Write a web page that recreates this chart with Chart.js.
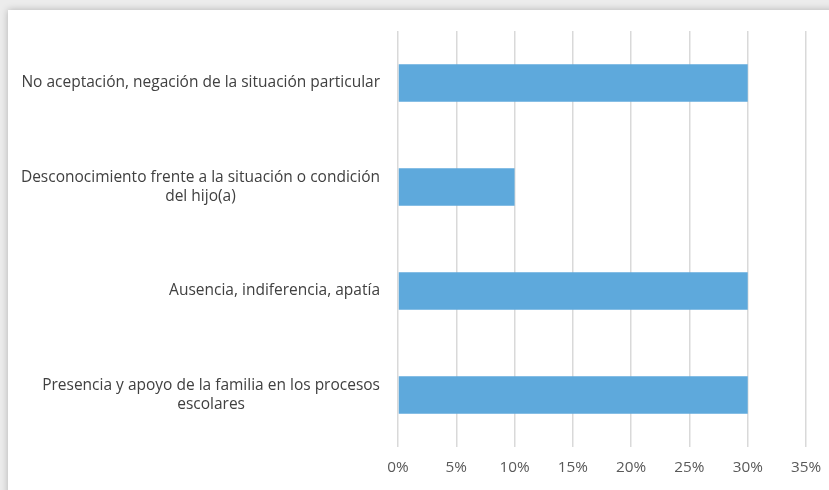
<!DOCTYPE html>
<html>
<head>
<meta charset="utf-8">
<script src="https://cdn.jsdelivr.net/npm/chart.js@4/dist/chart.umd.min.js"></script>
<style>
  html, body { margin: 0; padding: 0; background: #ececec; overflow: hidden; }
  #card { position: absolute; left: 8px; top: 10px; width: 900px; height: 600px; background: #fff;
          box-shadow: 0 0 7px rgba(0,0,0,0.25); }
  #wrap { position: absolute; left: 0; top: 0; width: 829px; height: 490px; }
</style>
</head>
<body>
<div id="card"></div>
<div id="wrap"><canvas id="chart"></canvas></div>
<script>
// categories (each entry = lines of the label)
const categories = [
  ["No aceptación, negación de la situación particular"],
  ["Desconocimiento frente a la situación o condición", "del hijo(a)"],
  ["Ausencia, indiferencia, apatía"],
  ["Presencia y apoyo de la familia en los procesos", "escolares"]
];
const values = [30, 10, 30, 30];
const xTicks = [0, 5, 10, 15, 20, 25, 30, 35];

const labelFont = "15.5px 'Open Sans'";

// draw the category labels: block right-aligned, lines centered inside the block
const catLabels = {
  id: "catLabels",
  afterDraw(chart) {
    const ctx = chart.ctx;
    const y = chart.scales.y;
    const right = y.right - 18;
    ctx.save();
    ctx.font = labelFont;
    ctx.fillStyle = "#404040";
    ctx.textAlign = "center";
    ctx.textBaseline = "middle";
    categories.forEach((lines, i) => {
      const w = Math.max(...lines.map(l => ctx.measureText(l).width));
      const cx = right - w / 2;
      const cy = y.getPixelForValue(i);
      const lh = 19;
      lines.forEach((l, j) => {
        ctx.fillText(l, cx, cy + (j - (lines.length - 1) / 2) * lh);
      });
    });
    ctx.restore();
  }
};

new Chart(document.getElementById("chart"), {
  type: "bar",
  data: {
    labels: categories,
    datasets: [{
      data: values,
      backgroundColor: "#5ea9dc",
      borderWidth: 0,
      categoryPercentage: 1,
      barPercentage: 0.36
    }]
  },
  options: {
    indexAxis: "y",
    responsive: true,
    maintainAspectRatio: false,
    animation: false,
    layout: { padding: { top: 31, right: 23, left: 0, bottom: 0 } },
    plugins: { legend: { display: false }, tooltip: { enabled: false } },
    scales: {
      x: {
        min: 0,
        max: 35,
        afterBuildTicks: s => { s.ticks = xTicks.map(v => ({ value: v })); },
        afterFit: s => { s.height = 43; s.paddingLeft = 0; s.paddingRight = 0; },
        grid: { color: "#d9d9d9", lineWidth: 1.5, drawTicks: false },
        border: { display: false },
        ticks: {
          padding: 11,
          color: "#595959",
          font: { family: "Open Sans", size: 15.3 },
          callback: v => v + "%"
        }
      },
      y: {
        afterFit: s => { s.width = 398; },
        grid: { display: false },
        border: { display: false },
        ticks: { display: false }
      }
    }
  },
  plugins: [catLabels]
});
</script>
</body>
</html>
